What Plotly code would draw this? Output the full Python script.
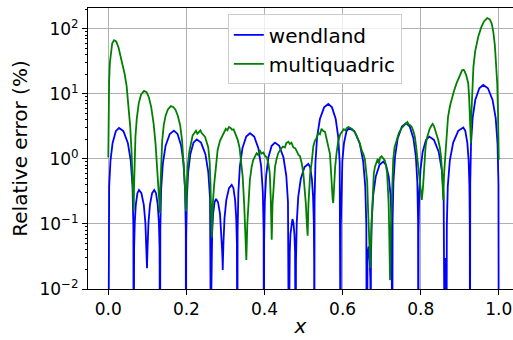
import plotly.graph_objects as go

# ---------------- data ----------------
wendland_x = [
    0.0, 0.00055, 0.0022, 0.0055, 0.011, 0.0192, 0.0274, 0.0387, 0.05, 0.0575, 0.062, 0.0642,
    0.065, 0.0653, 0.0661, 0.0677, 0.0704, 0.0745, 0.0786, 0.0848, 0.0909, 0.095, 0.0975, 0.0987,
    0.0991, 0.0995, 0.1006, 0.1028, 0.1066, 0.1122, 0.1178, 0.1222, 0.1266, 0.1296, 0.1313, 0.1322,
    0.1325, 0.1332, 0.1353, 0.1396, 0.1467, 0.1574, 0.168, 0.1773, 0.1866, 0.1928, 0.1965, 0.1984,
    0.199, 0.1995, 0.2012, 0.2045, 0.21, 0.2182, 0.2264, 0.2375, 0.2487, 0.2561, 0.2605, 0.2628,
    0.2635, 0.2637, 0.2645, 0.266, 0.2684, 0.2721, 0.2758, 0.281, 0.2861, 0.2896, 0.2916, 0.2927,
    0.293, 0.2935, 0.2948, 0.2976, 0.3022, 0.3091, 0.316, 0.3204, 0.3247, 0.3276, 0.3293, 0.3302,
    0.3305, 0.3311, 0.3331, 0.337, 0.3435, 0.3532, 0.3629, 0.3736, 0.3843, 0.3914, 0.3957, 0.3978,
    0.3985, 0.3991, 0.4008, 0.4042, 0.4099, 0.4184, 0.4269, 0.4377, 0.4486, 0.4558, 0.4601, 0.4623,
    0.463, 0.4632, 0.4637, 0.4647, 0.4664, 0.469, 0.4715, 0.474, 0.4766, 0.4783, 0.4793, 0.4798,
    0.48, 0.4806, 0.4826, 0.4864, 0.4929, 0.5025, 0.5122, 0.5168, 0.5214, 0.5244, 0.5263, 0.5272,
    0.5275, 0.5282, 0.5304, 0.5347, 0.5419, 0.5526, 0.5634, 0.5729, 0.5824, 0.5888, 0.5926, 0.5945,
    0.5951, 0.5955, 0.5968, 0.5994, 0.6036, 0.61, 0.6164, 0.63, 0.6436, 0.6526, 0.6581, 0.6608,
    0.6617, 0.6618, 0.6621, 0.6627, 0.6638, 0.6654, 0.667, 0.6685, 0.67, 0.6711, 0.6717, 0.6719,
    0.672, 0.6726, 0.6746, 0.6784, 0.6849, 0.6945, 0.7042, 0.7111, 0.7181, 0.7227, 0.7255, 0.7268,
    0.7273, 0.728, 0.7301, 0.7343, 0.7413, 0.7519, 0.7624, 0.7719, 0.7813, 0.7876, 0.7914, 0.7933,
    0.7939, 0.7945, 0.7961, 0.7995, 0.8051, 0.8136, 0.822, 0.834, 0.846, 0.854, 0.8588, 0.8612,
    0.862, 0.864, 0.866,
    0.8669, 0.8694, 0.8746, 0.8832, 0.8962, 0.9091, 0.9142, 0.9194, 0.9228, 0.9248, 0.9258,
    0.9262, 0.9269, 0.9289, 0.933, 0.9398, 0.9501, 0.9603, 0.9722, 0.9841, 0.9921, 0.9968, 0.9992,
    1.0,
]
wendland_y = [
    1e-4, 0.093, 0.375, 0.93, 1.76, 2.67, 3.0, 2.67, 1.76, 0.93, 0.375, 0.093,
    1e-4, 0.0103, 0.042, 0.103, 0.196, 0.297, 0.333, 0.297, 0.196, 0.103, 0.045, 0.027,
    0.0208, 0.027, 0.045, 0.103, 0.196, 0.297, 0.333, 0.297, 0.196, 0.103, 0.042, 0.0103,
    1e-4, 0.084, 0.34, 0.84, 1.6, 2.42, 2.72, 2.42, 1.6, 0.84, 0.34, 0.084,
    1e-4, 0.062, 0.25, 0.62, 1.18, 1.78, 2.0, 1.78, 1.18, 0.62, 0.25, 0.062,
    1e-4, 0.0075, 0.03, 0.075, 0.143, 0.216, 0.243, 0.216, 0.143, 0.075, 0.038, 0.025,
    0.0196, 0.026, 0.05, 0.123, 0.234, 0.355, 0.398, 0.355, 0.234, 0.123, 0.05, 0.0123,
    1e-4, 0.077, 0.31, 0.77, 1.46, 2.21, 2.48, 2.21, 1.46, 0.77, 0.31, 0.077,
    1e-4, 0.055, 0.22, 0.55, 1.05, 1.59, 1.78, 1.59, 1.05, 0.55, 0.22, 0.055,
    1e-4, 0.0037, 0.015, 0.037, 0.07, 0.106, 0.119, 0.106, 0.07, 0.037, 0.015, 0.0037,
    1e-4, 0.026, 0.105, 0.26, 0.49, 0.75, 0.837, 0.75, 0.49, 0.26, 0.105, 0.026,
    1e-4, 0.22, 0.875, 2.16, 4.1, 6.2, 7.0, 6.2, 4.1, 2.16, 0.875, 0.22,
    1e-4, 0.093, 0.375, 0.93, 1.76, 2.67, 3.0, 2.67, 1.76, 0.93, 0.375, 0.093,
    1e-4, 0.0014, 0.0056, 0.014, 0.026, 0.04, 0.045, 0.04, 0.026, 0.014, 0.0056, 0.0014,
    1e-4, 0.028, 0.114, 0.28, 0.535, 0.81, 0.91, 0.81, 0.535, 0.28, 0.114, 0.028,
    1e-4, 0.11, 0.44, 1.09, 2.08, 3.15, 3.54, 3.15, 2.08, 1.09, 0.44, 0.11,
    1e-4, 0.068, 0.275, 0.68, 1.29, 1.96, 2.2, 1.96, 1.29, 0.68, 0.275, 0.068,
    1e-4, 0.03, 1e-4,
    0.094, 0.38, 0.94, 1.78, 2.7, 3.03, 2.7, 1.78, 0.94, 0.38, 0.094,
    1e-4, 0.42, 1.71, 4.23, 8.06, 12.2, 13.7, 12.2, 8.06, 4.23, 1.71, 0.42,
    1e-4,
]

multiquadric_x = [
    0.0, 0.0008, 0.002, 0.004, 0.007, 0.010, 0.0147, 0.020, 0.026, 0.030, 0.036, 0.042, 0.047, 0.052, 0.056, 0.0595, 0.062, 0.0635,
    0.065, 0.0658, 0.0672, 0.0695, 0.073, 0.078, 0.084, 0.0915, 0.098, 0.104, 0.110, 0.116, 0.121, 0.125, 0.128, 0.1305,
    0.1325, 0.1333, 0.135, 0.138, 0.142, 0.147, 0.153, 0.1605, 0.166, 0.172, 0.178, 0.184, 0.189, 0.193, 0.196,
    0.199, 0.2005, 0.203, 0.2075, 0.212, 0.216, 0.2205, 0.2245, 0.228, 0.232, 0.236, 0.239, 0.243, 0.2475, 0.252, 0.256, 0.2595, 0.2615,
    0.265, 0.2675, 0.271, 0.275, 0.280, 0.286, 0.292, 0.297, 0.301, 0.305, 0.309, 0.313, 0.317, 0.321, 0.326, 0.331, 0.336, 0.340, 0.344, 0.348, 0.351,
    0.3535, 0.356, 0.359, 0.3625, 0.367, 0.371, 0.376, 0.380, 0.384, 0.388, 0.392, 0.397, 0.401, 0.406, 0.410, 0.4135, 0.416,
    0.4185, 0.4205, 0.4235, 0.427, 0.431, 0.435, 0.441, 0.447, 0.452, 0.456, 0.461, 0.465, 0.469, 0.474, 0.479, 0.483, 0.487, 0.491, 0.4955, 0.4995, 0.503, 0.506, 0.5085,
    0.5105, 0.5125, 0.5146, 0.517, 0.521, 0.525, 0.529, 0.5335, 0.538, 0.542, 0.546, 0.550, 0.555, 0.559, 0.5635, 0.5676, 0.570, 0.572, 0.5745,
    0.576, 0.578, 0.581, 0.585, 0.589, 0.594, 0.599, 0.603, 0.607, 0.611, 0.615, 0.619, 0.624, 0.628, 0.632, 0.637, 0.6415, 0.6445, 0.649, 0.653, 0.657, 0.660, 0.663, 0.6655, 0.668,
    0.671, 0.6735, 0.675, 0.678, 0.680, 0.683, 0.687, 0.690, 0.693, 0.696, 0.700, 0.704, 0.708, 0.711, 0.714, 0.716, 0.718, 0.7195,
    0.7215, 0.7235, 0.7255, 0.7275, 0.7296, 0.733, 0.738, 0.744, 0.751, 0.757, 0.762, 0.766, 0.769, 0.773, 0.777, 0.781, 0.785, 0.788, 0.791, 0.794, 0.797, 0.800,
    0.8028, 0.806, 0.809, 0.8125, 0.816, 0.819, 0.823, 0.827, 0.8305, 0.834, 0.838, 0.842, 0.845, 0.849, 0.852, 0.855,
    0.8577, 0.860, 0.862, 0.866, 0.870, 0.875, 0.879, 0.885, 0.892, 0.899, 0.906, 0.910, 0.913, 0.917, 0.9217, 0.924, 0.926, 0.9275,
    0.9286, 0.9295, 0.932, 0.935, 0.9395, 0.9475, 0.955, 0.962, 0.9705, 0.977, 0.982, 0.986, 0.990, 0.993, 0.996, 0.998, 1.0,
]
multiquadric_y = [
    1.05, 5, 15, 30, 48, 60, 67, 64, 52, 42, 30, 20, 13, 6.5, 3.2, 1.3, 0.6, 0.32,
    0.16, 0.35, 0.9, 2.2, 4.2, 7.2, 9.8, 11.1, 10.6, 8.8, 6.2, 3.5, 1.7, 0.8, 0.4, 0.22,
    0.146, 0.35, 0.9, 1.9, 3.3, 4.7, 5.8, 6.5, 6.3, 5.7, 4.6, 3.3, 1.9, 0.9, 0.4,
    0.155, 0.35, 0.75, 1.3, 1.9, 2.3, 2.5, 2.7, 2.45, 2.6, 2.75, 2.5, 2.35, 2.2, 1.8, 1.5, 0.9, 0.45,
    0.062, 0.2, 0.4, 0.8, 1.37, 1.9, 2.3, 2.6, 2.9, 2.75, 3.1, 3.0, 2.8, 2.85, 2.4, 2.0, 1.5, 1.0, 0.55, 0.2, 0.07,
    0.028, 0.1, 0.25, 0.47, 0.75, 0.96, 1.1, 1.22, 1.15, 1.37, 1.2, 1.25, 1.12, 1.05, 0.85, 0.6, 0.25,
    0.057, 0.2, 0.45, 0.76, 1.0, 1.22, 1.4, 1.55, 1.5, 1.75, 1.84, 1.7, 1.78, 1.5, 1.45, 1.3, 1.15, 1.1, 0.85, 0.6, 0.35, 0.2, 0.1,
    0.066, 0.2, 0.37, 0.6, 0.9, 1.55, 1.9, 2.1, 2.5, 2.4, 2.9, 2.7, 2.6, 2.1, 1.6, 1.2, 0.7, 0.37, 0.24,
    0.21, 0.45, 0.76, 1.3, 1.9, 2.4, 2.6, 2.85, 2.75, 3.0, 3.1, 3.0, 2.9, 2.7, 2.55, 2.2, 1.9, 1.7, 1.35, 1.2, 1.0, 0.7, 0.45, 0.15, 0.05,
    0.021, 0.08, 0.15, 0.45, 0.6, 0.76, 0.86, 1.0, 0.85, 1.05, 1.1, 1.0, 0.95, 0.8, 0.6, 0.35, 0.2, 0.07,
    0.0137, 0.08, 0.23, 0.5, 0.97, 1.5, 1.95, 2.5, 2.97, 3.3, 3.5, 3.7, 3.4, 3.3, 3.1, 2.7, 2.2, 1.6, 1.08, 0.65, 0.45, 0.3,
    0.234, 0.37, 0.8, 1.55, 2.1, 2.5, 2.9, 3.2, 3.45, 3.2, 2.7, 2.3, 1.95, 1.5, 1.08, 0.6,
    0.234, 0.6, 0.97, 2.2, 4.4, 6.5, 8.1, 11, 14.6, 19, 23, 23.4, 22, 19, 14.6, 9, 5.1, 2.6,
    1.75, 4.4, 12, 26, 45, 76, 105, 130, 146, 140, 120, 90, 55, 33, 14.6, 5, 0.97,
]

series_names = ["wendland", "multiquadric"]
x_tick_values = [0.0, 0.2, 0.4, 0.6, 0.8, 1.0]
x_tick_labels = ["0.0", "0.2", "0.4", "0.6", "0.8", "1.0"]
y_tick_values = [0.01, 0.1, 1, 10, 100]
y_tick_labels = ["10<sup>\u22122</sup>", "10<sup>\u22121</sup>", "10<sup>0</sup>",
                 "10<sup>1</sup>", "10<sup>2</sup>"]
y_minor_values = [m * d for d in (0.01, 0.1, 1, 10, 100) for m in range(2, 10)]

# ---------------- figure ----------------
FONT = "DejaVu Sans"
fig = go.Figure()
fig.add_trace(go.Scatter(x=wendland_x, y=wendland_y, mode="lines", name=series_names[0],
                         line=dict(color="#0000ff", width=1.8)))
fig.add_trace(go.Scatter(x=multiquadric_x, y=multiquadric_y, mode="lines", name=series_names[1],
                         line=dict(color="#008000", width=1.8)))

fig.update_layout(
    width=513, height=340,
    margin=dict(l=88, r=0, t=8, b=51, pad=0),
    paper_bgcolor="white", plot_bgcolor="white",
    font=dict(family=FONT, color="black", size=17),
    showlegend=True,
    legend=dict(x=0.329, y=0.977, xanchor="left", yanchor="top",
                bgcolor="rgba(255,255,255,0.8)", bordercolor="#cccccc", borderwidth=1,
                font=dict(family=FONT, size=20, color="black")),
)
fig.update_xaxes(
    range=[-0.052, 1.0364], tickmode="array", tickvals=x_tick_values, ticktext=x_tick_labels,
    showgrid=True, gridcolor="#b0b0b0", gridwidth=0.8, zeroline=False,
    showline=True, linecolor="black", linewidth=1, mirror=True,
    ticks="outside", ticklen=5, tickcolor="black", tickwidth=1,
    tickfont=dict(family=FONT, size=17), ticklabeloverflow="allow", automargin=False,
    title=dict(text="<i>x</i>", font=dict(family=FONT, size=20), standoff=0),
)
fig.update_yaxes(
    type="log", range=[-2, 2.32], tickmode="array", tickvals=y_tick_values, ticktext=y_tick_labels,
    showgrid=True, gridcolor="#b0b0b0", gridwidth=0.8, zeroline=False,
    showline=True, linecolor="black", linewidth=1, automargin=False,
    ticks="outside", ticklen=5, tickcolor="black", tickwidth=1,
    minor=dict(tickmode="array", tickvals=y_minor_values, ticks="outside", ticklen=2.5,
               tickcolor="black", tickwidth=0.8, showgrid=False),
    tickfont=dict(family=FONT, size=17),
    title=dict(text="Relative error (%)", font=dict(family=FONT, size=20), standoff=6),
)

# remove the browser's default 8px page margin so the figure sits at the window origin
fig.write_html("out.html", config={"displayModeBar": False},
               post_script="document.body.style.margin='0';")
